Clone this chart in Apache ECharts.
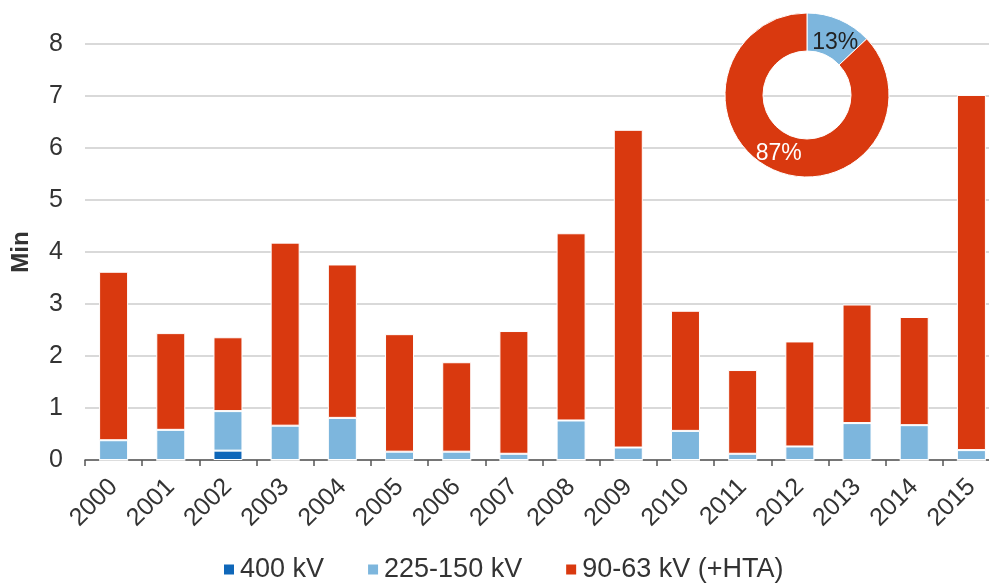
<!DOCTYPE html>
<html>
<head>
<meta charset="utf-8">
<script src="https://cdn.jsdelivr.net/npm/echarts@6/dist/echarts.min.js"></script>
<style>
  html, body { margin: 0; padding: 0; background: #fff; }
  #chart { width: 989px; height: 588px; }
</style>
</head>
<body>
<div id="chart"></div>
<script>
const YEARS = ['2000', '2001', '2002', '2003', '2004', '2005', '2006', '2007',
               '2008', '2009', '2010', '2011', '2012', '2013', '2014', '2015']

// minutes per voltage level, stacked
const KV400 = [0, 0, 0.18, 0, 0, 0, 0, 0, 0, 0, 0, 0, 0, 0, 0, 0]
const KV225 = [0.38, 0.58, 0.76, 0.66, 0.81, 0.16, 0.16, 0.12, 0.76, 0.24, 0.56, 0.12, 0.26, 0.71, 0.67, 0.19]
const KV90  = [3.24, 1.86, 1.42, 3.52, 2.95, 2.26, 1.72, 2.36, 3.60, 6.11, 2.31, 1.61, 2.02, 2.28, 2.08, 6.83]

// share of the 2015 total, in %
const SHARE_LABELS = ['225-150 kV', '90-63 kV (+HTA)']
const SHARE_VALUES = [13, 87]

const COLORS = { kv400: '#0f67b9', kv225: '#7db6dd', kv90: '#d9390f' }
const FONT = 'Liberation Sans, Arial, sans-serif'

const barStyle = (color) => ({ color, borderColor: '#fff', borderWidth: 1 })

const chart = echarts.init(document.getElementById('chart'), null, { renderer: 'canvas' })

chart.setOption({
  animation: false,
  textStyle: { fontFamily: FONT },
  // grid runs past the right edge on purpose (the source image is cropped there)
  grid: { left: 85, top: 44, width: 915, height: 416, containLabel: false, outerBoundsMode: 'none' },
  legend: {
    bottom: 5, left: 222, padding: 0,
    itemWidth: 12, itemHeight: 12, itemGap: 42,
    icon: 'rect',
    textStyle: { color: '#333', fontSize: 27, fontFamily: FONT },
    data: ['400 kV', '225-150 kV', '90-63 kV (+HTA)'],
  },
  xAxis: {
    type: 'category',
    data: YEARS,
    axisLine: { lineStyle: { color: '#555', width: 1.5 } },
    axisTick: { show: true, length: 6, lineStyle: { color: '#555', width: 1.5 } },
    axisLabel: { rotate: 45, color: '#333', fontSize: 25, fontFamily: FONT, margin: 23, interval: 0 },
  },
  yAxis: {
    type: 'value', min: 0, max: 8, interval: 1,
    name: 'Min', nameLocation: 'middle', nameGap: 52, nameRotate: 90,
    nameTextStyle: { color: '#333', fontSize: 24, fontWeight: 'bold', fontFamily: FONT },
    axisLine: { show: false },
    axisTick: { show: false },
    axisLabel: { color: '#333', fontSize: 25, fontFamily: FONT, margin: 22 },
    splitLine: { lineStyle: { color: '#cccccc', width: 1.5 } },
  },
  series: [
    { name: '400 kV', type: 'bar', stack: 'total', barWidth: 29,
      itemStyle: barStyle(COLORS.kv400), data: KV400 },
    { name: '225-150 kV', type: 'bar', stack: 'total', barWidth: 29,
      itemStyle: barStyle(COLORS.kv225), data: KV225 },
    { name: '90-63 kV (+HTA)', type: 'bar', stack: 'total', barWidth: 29,
      itemStyle: barStyle(COLORS.kv90), data: KV90 },
    {
      type: 'pie',
      center: [807, 95],
      radius: [44, 82],
      startAngle: 90,
      clockwise: true,
      silent: true,
      legendHoverLink: false,
      itemStyle: { borderColor: '#fff', borderWidth: 1 },
      label: {
        position: 'inside',
        fontSize: 23, fontFamily: FONT,
        formatter: (p) => `${p.value}%`,
      },
      labelLine: { show: false },
      data: SHARE_LABELS.map((name, i) => ({
        name: 'share ' + name,
        value: SHARE_VALUES[i],
        itemStyle: { color: i === 0 ? COLORS.kv225 : COLORS.kv90 },
        label: i === 0 ? { color: '#222', offset: [2, 8] } : { color: '#fff', offset: [-2, -2] },
      })),
    },
  ],
})
</script>
</body>
</html>
